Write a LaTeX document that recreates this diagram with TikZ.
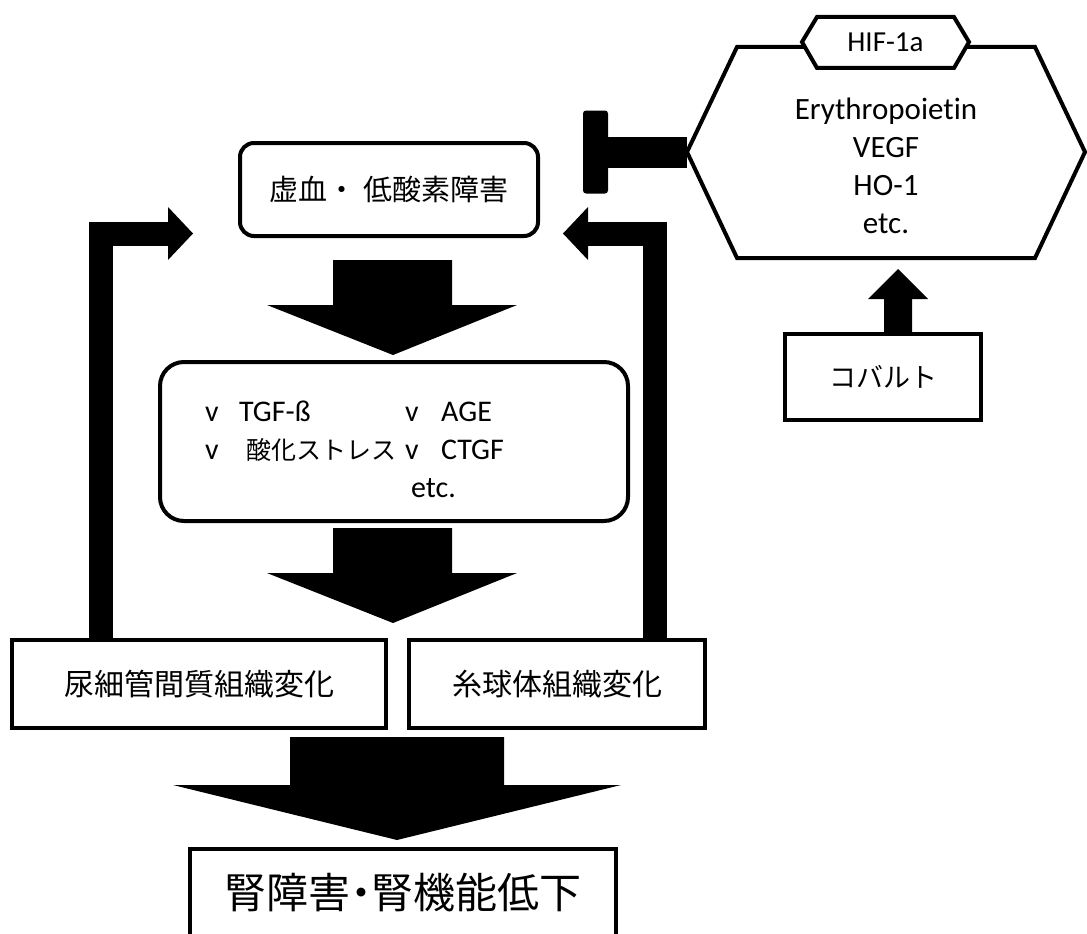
\documentclass[tikz,border=0pt]{standalone}
\usepackage{fontspec}
\setmainfont{Carlito}[RawFeature=-liga]
\newfontfamily\jp{Noto Sans CJK JP}
\newfontfamily\jpp[RawFeature=+palt]{Noto Sans CJK JP}
\begin{document}
\begin{tikzpicture}[x=1pt,y=-1pt,
  box/.style={draw=black,line width=4pt,fill=white,inner sep=0pt},
  rbox/.style={box,rounded corners=#1},
  jtxt/.style={font=\jp\fontsize{#1}{#1}\selectfont},
  ltxt/.style={inner sep=0pt,anchor=base west,font=\fontsize{30}{30}\selectfont},
  fb/.style={line width=24pt,line join=miter},
  blk/.style={fill=black}]
\useasboundingbox (0,0) rectangle (1087,934);

% T-bar inhibitor stem (behind hexagon)
\node[fill=black,rounded corners=3pt,minimum width=25pt,minimum height=83pt,inner sep=0pt] (tbar) at (595.5,152) {};
\coordinate (hexL) at (687,152);
\draw[line width=31pt] (tbar.center) -- (hexL);

% big hexagon
\draw[line width=4pt,fill=white] (hexL) -- (737,47) -- (1035,47) -- (1085,152) -- (1035,258) -- (737,258) -- cycle;
\node[align=center,font=\fontsize{31}{38}\selectfont,inner sep=0pt] (prod) at (886,166) {Erythropoietin\\VEGF\\HO-1\\etc.};
% HIF-1a small hexagon
\draw[line width=4pt,fill=white] (802,42) -- (817,17) -- (954,17) -- (969,42) -- (954,68) -- (817,68) -- cycle;
\node[font=\fontsize{29}{29}\selectfont,inner sep=0pt] (hif) at (885.5,42) {HIF-1a};

% cobalt box and up arrow
\node[box,minimum width=196pt,minimum height=86pt,jtxt=27] (cob) at (883,377) {コバルト};
\fill[blk] (884,0 |- cob.north) -- (884,299) -- (868,299) -- (898,269) -- (928,299) -- (912,299) -- (912,0 |- cob.north) -- cycle;

% top box
\node[rbox=14pt,minimum width=298pt,minimum height=93pt,jtxt=29] (isch) at (389,189.5) {虚血・ 低酸素障害};

% down arrow 1
\fill[blk] (333,260) -- (452,260) -- (452,305) -- (517,305) -- (393,355) -- (267,305) -- (333,305) -- cycle;

% middle box
\node[rbox=24pt,minimum width=468pt,minimum height=159pt] (mid) at (394,441.5) {};
\node[ltxt] (b1) at (205,421) {v};
\node[ltxt] (tgf) at (239,421) {TGF-ß};
\node[ltxt] (b2) at (405,421) {v};
\node[ltxt] (age) at (441,421) {AGE};
\node[ltxt] (b3) at (205,459) {v};
\node[ltxt,font=\jp\fontsize{25}{25}\selectfont] (ox) at (246,459) {酸化ストレス};
\node[ltxt] (b4) at (405,459) {v};
\node[ltxt] (ctgf) at (441,459) {CTGF};
\node[ltxt] (etc2) at (411,497) {etc.};

% down arrow 2
\fill[blk] (333,528) -- (452,528) -- (452,573) -- (517,573) -- (393,623) -- (267,573) -- (333,573) -- cycle;

% bottom two boxes
\node[box,minimum width=374pt,minimum height=88pt,jtxt=30] (tub) at (199,684) {尿細管間質組織変化};
\node[box,minimum width=296pt,minimum height=88pt,jtxt=30] (glo) at (557,684) {糸球体組織変化};

% feedback arrows
\draw[fb] (101,0 |- tub.north) -- (101,233.5) -- (170,233.5);
\fill[blk] (168,207) -- (193,233.5) -- (168,260) -- cycle;
\draw[fb] (655,0 |- glo.north) -- (655,233.5) -- (586,233.5);
\fill[blk] (588,207) -- (563,233.5) -- (588,260) -- cycle;

% down arrow 3
\fill[blk] (290,737) -- (504,737) -- (504,785) -- (621,785) -- (397,840) -- (173,785) -- (290,785) -- cycle;

% final box
\node[box,minimum width=426pt,minimum height=88pt,font=\jpp\fontsize{42}{42}\selectfont] (ckd) at (403,893) {腎障害・腎機能低下};
\end{tikzpicture}
\end{document}
